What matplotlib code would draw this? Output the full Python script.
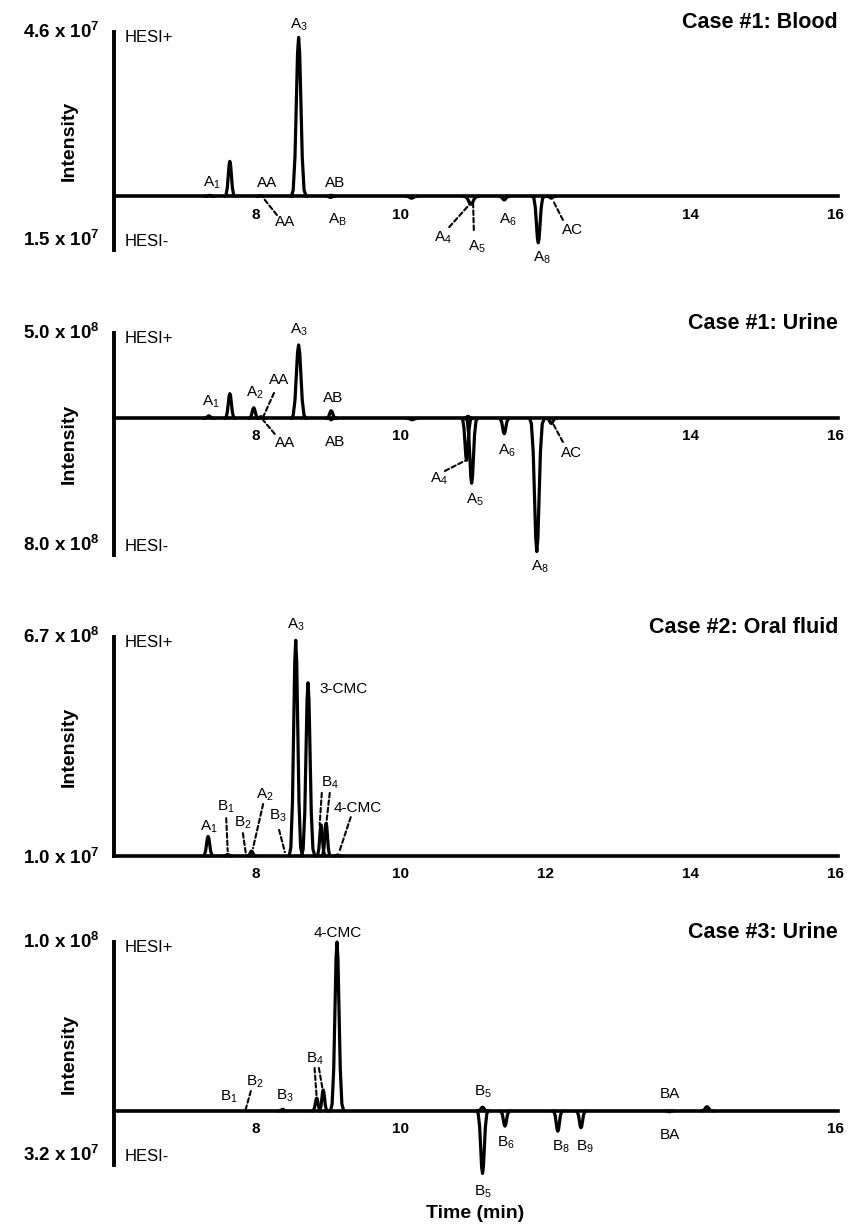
import matplotlib
matplotlib.use('Agg')
import matplotlib.pyplot as plt
import numpy as np

plt.rcParams['font.family'] = ['Liberation Sans', 'DejaVu Sans']
plt.rcParams['mathtext.fontset'] = 'custom'
plt.rcParams['mathtext.rm'] = 'Liberation Sans'
plt.rcParams['mathtext.it'] = 'Liberation Sans:italic'
plt.rcParams['mathtext.bf'] = 'Liberation Sans:bold'

# ---- data (retention time in min, apex intensity, half base width) ----
# Case #1 blood, intensity in 1e7 (negative = HESI-)
blood_rt = [7.36, 7.64, 8.06, 8.59, 9.04, 9.03, 10.15, 10.97, 11.43, 11.90, 12.08]
blood_h = [0.03, 0.98, 0.02, 4.45, 0.03, -0.03, -0.05, -0.22, -0.10, -1.30, -0.05]
blood_w = [0.06, 0.07, 0.05, 0.10, 0.05, 0.05, 0.08, 0.10, 0.07, 0.08, 0.06]

# Case #1 urine, intensity in 1e8
urine1_rt = [7.35, 7.64, 7.97, 8.07, 8.59, 9.04, 10.93, 9.04, 10.16, 10.91, 10.98, 11.43, 11.88, 12.08]
urine1_h = [0.15, 1.45, 0.62, 0.10, 4.30, 0.45, 0.12, -0.08, -0.08, -2.45, -3.80, -0.90, -7.80, -0.30]
urine1_w = [0.07, 0.07, 0.07, 0.05, 0.10, 0.07, 0.06, 0.04, 0.08, 0.07, 0.08, 0.07, 0.10, 0.07]

# Case #2 oral fluid, intensity in 1e8
oral_rt = [7.34, 7.61, 7.94, 8.55, 8.72, 8.90, 8.97, 9.13]
oral_h = [0.60, 0.05, 0.15, 6.60, 5.30, 0.95, 1.00, 0.03]
oral_w = [0.07, 0.05, 0.06, 0.09, 0.09, 0.06, 0.06, 0.05]

# Case #3 urine, intensity in 1e7
urine3_rt = [8.37, 8.84, 8.93, 9.12, 11.13, 14.23, 11.13, 11.44, 12.17, 12.49, 13.71]
urine3_h = [0.10, 0.76, 1.24, 10.0, 0.22, 0.25, -3.70, -0.90, -1.20, -1.00, -0.05]
urine3_w = [0.05, 0.06, 0.06, 0.09, 0.07, 0.08, 0.08, 0.07, 0.07, 0.07, 0.05]

# peak outline used for every peak (offset in half widths, fraction of apex)
shape_dt = np.array([-1.0, -0.75, -0.5, -0.3, -0.15, 0.0, 0.15, 0.3, 0.5, 0.75, 1.05])
shape_frac = np.array([0.0, 0.04, 0.25, 0.62, 0.9, 1.0, 0.9, 0.62, 0.25, 0.04, 0.0])

# shown time ticks per panel
blood_ticks = [8, 10, 14, 16]
urine1_ticks = [8, 10, 14, 16]
oral_ticks = [8, 10, 12, 14, 16]
urine3_ticks = [8, 10, 16]

# peak labels: text, time, intensity, alignment
blood_labels = [('A$_3$', 8.59, 4.80, 'center'), ('A$_1$', 7.39, 0.37, 'center'),
                ('AA', 8.15, 0.37, 'center'), ('AB', 9.09, 0.37, 'center'),
                ('AA', 8.40, -0.72, 'center'), ('A$_\\mathregular{B}$', 9.12, -0.66, 'center'),
                ('A$_4$', 10.58, -1.16, 'center'), ('A$_5$', 11.05, -1.42, 'center'),
                ('A$_6$', 11.48, -0.66, 'center'), ('A$_8$', 11.95, -1.72, 'center'),
                ('AC', 12.38, -0.94, 'center')]
blood_leaders = [((8.29, -0.52), (8.10, -0.04)), ((10.67, -0.86), (10.97, -0.18)),
                 ((11.01, -0.94), (11.00, -0.18)), ((12.24, -0.66), (12.10, -0.10))]

urine1_labels = [('A$_3$', 8.59, 5.18, 'center'), ('A$_1$', 7.38, 0.96, 'center'),
                 ('A$_2$', 7.99, 1.49, 'center'), ('AA', 8.32, 2.25, 'center'),
                 ('AB', 9.06, 1.19, 'center'), ('AA', 8.40, -1.44, 'center'),
                 ('AB', 9.09, -1.38, 'center'), ('A$_4$', 10.53, -3.54, 'center'),
                 ('A$_5$', 11.02, -4.78, 'center'), ('A$_6$', 11.47, -1.91, 'center'),
                 ('AC', 12.36, -2.03, 'center'), ('A$_8$', 11.92, -8.70, 'center')]
urine1_leaders = [((8.25, 1.49), (8.10, 0.08)), ((8.26, -0.91), (8.10, -0.10)),
                  ((10.61, -3.08), (10.91, -2.43)), ((12.24, -1.38), (12.09, -0.20))]

oral_labels = [('A$_3$', 8.55, 7.07, 'center'), ('3-CMC', 8.88, 5.11, 'left'),
               ('A$_1$', 7.35, 0.89, 'center'), ('B$_1$', 7.59, 1.50, 'center'),
               ('B$_2$', 7.82, 1.01, 'center'), ('A$_2$', 8.12, 1.87, 'center'),
               ('B$_3$', 8.30, 1.22, 'center'), ('B$_4$', 9.02, 2.23, 'center'),
               ('4-CMC', 9.08, 1.47, 'left')]
oral_leaders = [((7.59, 1.16), (7.61, 0.15)), ((7.82, 0.70), (7.86, 0.09)),
                ((8.10, 1.59), (7.96, 0.24)), ((8.32, 0.80), (8.40, 0.12)),
                ((8.91, 1.93), (8.88, 0.95)), ((9.02, 1.93), (8.97, 0.95)),
                ((9.31, 1.19), (9.15, 0.12))]

urine3_labels = [('4-CMC', 9.13, 10.54, 'center'), ('B$_1$', 7.63, 0.82, 'center'),
                 ('B$_2$', 7.99, 1.71, 'center'), ('B$_3$', 8.40, 0.88, 'center'),
                 ('B$_4$', 8.81, 3.07, 'center'), ('B$_5$', 11.14, 1.12, 'center'),
                 ('B$_5$', 11.14, -4.81, 'center'), ('B$_6$', 11.45, -1.91, 'center'),
                 ('B$_8$', 12.21, -2.14, 'center'), ('B$_9$', 12.54, -2.14, 'center'),
                 ('BA', 13.72, 1.00, 'center'), ('BA', 13.72, -1.43, 'center')]
urine3_leaders = [((7.93, 1.18), (7.86, 0.11)), ((8.81, 2.54), (8.84, 0.76)),
                  ((8.87, 2.54), (8.93, 1.06))]

panels = [
    dict(rt=blood_rt, h=blood_h, w=blood_w, ylim=(-1.5, 4.6), box=(32, 250), ticks=blood_ticks,
         ylabels=['1.5 x 10$^\\mathbf{7}$', '4.6 x 10$^\\mathbf{7}$'], neg=True,
         title='Case #1: Blood', labels=blood_labels, leaders=blood_leaders),
    dict(rt=urine1_rt, h=urine1_h, w=urine1_w, ylim=(-8.0, 5.0), box=(333, 555), ticks=urine1_ticks,
         ylabels=['8.0 x 10$^\\mathbf{8}$', '5.0 x 10$^\\mathbf{8}$'], neg=True,
         title='Case #1: Urine', labels=urine1_labels, leaders=urine1_leaders),
    dict(rt=oral_rt, h=oral_h, w=oral_w, ylim=(0.0, 6.7), box=(637, 856), ticks=oral_ticks,
         ylabels=['1.0 x 10$^\\mathbf{7}$', '6.7 x 10$^\\mathbf{8}$'], neg=False,
         title='Case #2: Oral fluid', labels=oral_labels, leaders=oral_leaders),
    dict(rt=urine3_rt, h=urine3_h, w=urine3_w, ylim=(-3.2, 10.0), box=(942, 1165), ticks=urine3_ticks,
         ylabels=['3.2 x 10$^\\mathbf{7}$', '1.0 x 10$^\\mathbf{8}$'], neg=True,
         title='Case #3: Urine', labels=urine3_labels, leaders=urine3_leaders),
]

W, H = 857, 1224
fig = plt.figure(figsize=(W / 100, H / 100), dpi=100)

for p in panels:
    top, bottom = p['box']
    ax = fig.add_axes([114 / W, 1 - bottom / H, 724 / W, (bottom - top) / H])
    ax.set_xlim(6.04, 16.04)
    ax.set_ylim(*p['ylim'])

    # chromatogram peaks
    for rt, hh, ww in zip(p['rt'], p['h'], p['w']):
        ax.plot(rt + ww * shape_dt, hh * shape_frac, color='black', lw=2.3,
                solid_joinstyle='round', solid_capstyle='round', clip_on=False, zorder=3)

    ax.spines['top'].set_visible(False)
    ax.spines['right'].set_visible(False)
    ax.spines['left'].set_linewidth(2.8)
    ax.spines['bottom'].set_position(('data', 0))
    ax.spines['bottom'].set_linewidth(2.6)

    ax.set_xticks(p['ticks'])
    ax.set_xticklabels([str(t) for t in p['ticks']], fontweight='bold', fontsize=11)
    ax.tick_params(axis='x', length=0, pad=8)

    ax.set_yticks(list(p['ylim']))
    ax.set_yticklabels(p['ylabels'], fontweight='bold', fontsize=13.5)
    ax.tick_params(axis='y', length=0, pad=10)
    if p['neg']:
        ax.get_yticklabels()[0].set_va('bottom')
    ax.get_yticklabels()[1].set_va('center')

    ax.set_ylabel('Intensity', fontweight='bold', fontsize=14)
    ax.yaxis.set_label_coords(-0.05, 0.5)

    ax.annotate('HESI+', (6.18, p['ylim'][1]), xytext=(0, -4), textcoords='offset points',
                va='center', ha='left', fontsize=12)
    if p['neg']:
        ax.annotate('HESI-', (6.18, p['ylim'][0]), xytext=(0, 6), textcoords='offset points',
                    va='center', ha='left', fontsize=12)

    ax.annotate(p['title'], (1.0, 1.0), xycoords='axes fraction', xytext=(0, 3),
                textcoords='offset points', ha='right', va='baseline',
                fontsize=15.5, fontweight='bold')

    for txt, t, v, ha in p['labels']:
        ax.text(t, v, txt, ha=ha, va='center', fontsize=11)
    for start, end in p['leaders']:
        ax.annotate('', xy=end, xytext=start,
                    arrowprops=dict(arrowstyle='-', linestyle=(0, (2.2, 1.4)), lw=1.5,
                                    color='black', shrinkA=0, shrinkB=0))

fig.text(475 / W, 1 - 1213 / H, 'Time (min)', ha='center', va='center',
         fontsize=14, fontweight='bold')

fig.savefig('out.png', dpi=100)
